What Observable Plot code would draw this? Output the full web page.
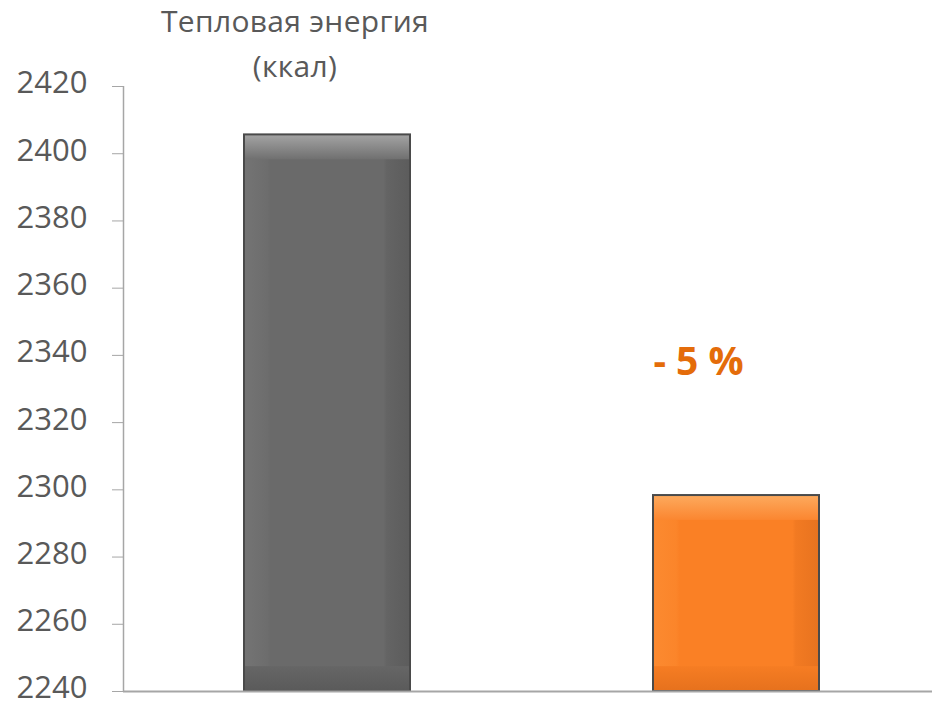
<!DOCTYPE html>
<html><head><meta charset="utf-8">
<script src="https://cdn.jsdelivr.net/npm/d3@7"></script>
<script src="https://cdn.jsdelivr.net/npm/@observablehq/plot@0.6"></script>
<style>
html,body{margin:0;padding:0;background:#fff;}
#wrap{position:relative;width:932px;height:702px;overflow:hidden;font-family:"Open Sans",sans-serif;}
#title{position:absolute;left:95px;top:-2px;width:400px;text-align:center;font-size:30px;letter-spacing:0.3px;line-height:45px;color:#595959;}
#chart{position:absolute;left:0;top:0;}
</style></head>
<body>
<div id="wrap"><div id="chart"></div><div id="title">Тепловая энергия<br>(ккал)</div></div>
<script>
const categories = ["До", "После"];
const values = [2405.6, 2298.3];
const yTicks = [2240, 2260, 2280, 2300, 2320, 2340, 2360, 2380, 2400, 2420];
const annotation = ["- 5 %"];
const annotationY = [2338];
const bevel = 7.4; // bevel depth in value units

const data = categories.map((c, i) => ({cat: c, value: values[i], i}));
const d0 = data.filter(d => d.i === 0), d1 = data.filter(d => d.i === 1);

const plot = Plot.plot({
  width: 932,
  height: 702,
  marginLeft: 123,
  marginRight: 0,
  marginTop: 86,
  marginBottom: 11,
  style: {fontFamily: "Open Sans, sans-serif", fontSize: "31px", color: "#595959", background: "#fff"},
  x: {domain: categories, range: [123, 941], paddingInner: 0.593, paddingOuter: 0.2965, axis: null},
  y: {domain: [2240, 2420], label: null},
  marks: [
    Plot.ruleX([0], {x: null, y1: 2240, y2: 2420, dx: 123 - (123 + 932) / 2, stroke: "#a6a6a6", strokeWidth: 1.5}),
    Plot.axisY({ticks: yTicks, tickFormat: "d", tickSize: 11, stroke: "#a6a6a6", label: null, text: null}),
    Plot.axisY({ticks: yTicks, tickFormat: "d", tickSize: 0, tickPadding: 36, dy: -3, fill: "#595959", fontSize: 31, label: null}),
    Plot.barY(d0, {x: "cat", y1: 2240, y2: "value", fill: "url(#g0)"}),
    Plot.barY(d1, {x: "cat", y1: 2240, y2: "value", fill: "url(#g1)"}),
    Plot.barY(d0, {x: "cat", y1: d => d.value - bevel, y2: "value", fill: "url(#g0t)", insetLeft: 1, insetRight: 1}),
    Plot.barY(d1, {x: "cat", y1: d => d.value - bevel, y2: "value", fill: "url(#g1t)", insetLeft: 1, insetRight: 1}),
    Plot.barY(d0, {x: "cat", y1: 2240, y2: 2240 + bevel, fill: "url(#g0b)", insetLeft: 1, insetRight: 1}),
    Plot.barY(d1, {x: "cat", y1: 2240, y2: 2240 + bevel, fill: "url(#g1b)", insetLeft: 1, insetRight: 1}),
    Plot.barY(data, {x: "cat", y1: 2240, y2: "value", fill: "none", stroke: "#4a4a4a", strokeWidth: 2}),
    Plot.ruleY([2240], {stroke: "#a6a6a6", strokeWidth: 2}),
    Plot.text(annotation, {x: () => categories[1], y: () => annotationY[0], text: d => d, dx: -38, fill: "#e46c0a", fontSize: 39, fontWeight: "bold"})
  ]
});

const ns = "http://www.w3.org/2000/svg";
const defs = document.createElementNS(ns, "defs");
function grad(id, vertical, stops) {
  const g = document.createElementNS(ns, "linearGradient");
  g.setAttribute("id", id);
  g.setAttribute("x1", "0"); g.setAttribute("y1", "0");
  g.setAttribute("x2", vertical ? "0" : "1"); g.setAttribute("y2", vertical ? "1" : "0");
  stops.forEach(([o, c]) => {
    const s = document.createElementNS(ns, "stop");
    s.setAttribute("offset", o); s.setAttribute("stop-color", c);
    g.appendChild(s);
  });
  defs.appendChild(g);
}
grad("g0", false, [[0, "#747474"], [0.14, "#6d6d6d"], [0.16, "#6a6a6a"], [0.84, "#6a6a6a"], [0.86, "#646464"], [1, "#5c5c5c"]]);
grad("g1", false, [[0, "#fc8a30"], [0.14, "#fb852a"], [0.16, "#fa8025"], [0.84, "#fa8025"], [0.86, "#f27a22"], [1, "#e8731f"]]);
grad("g0t", true, [[0, "#a4a4a4"], [1, "#707070"]]);
grad("g1t", true, [[0, "#fdaa5e"], [1, "#fb8630"]]);
grad("g0b", true, [[0, "#666666"], [1, "#5a5a5a"]]);
grad("g1b", true, [[0, "#f67d23"], [1, "#e6711d"]]);
plot.insertBefore(defs, plot.firstChild);
document.getElementById("chart").appendChild(plot);
</script>
</body></html>
